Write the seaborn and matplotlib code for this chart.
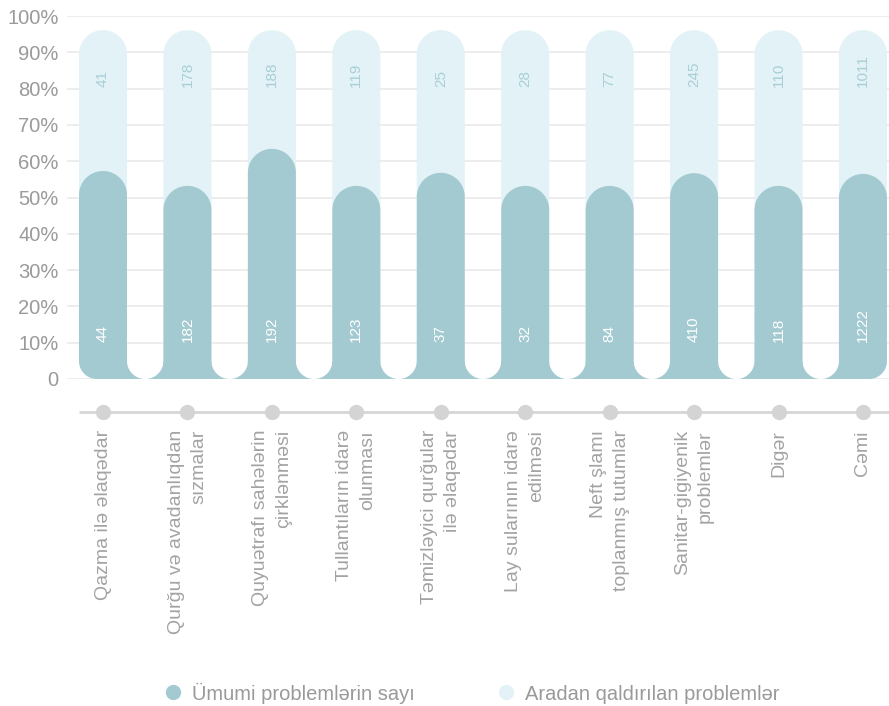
import numpy as np
import pandas as pd
import matplotlib
matplotlib.use("Agg")
import matplotlib.pyplot as plt
import seaborn as sns
from matplotlib.patches import Polygon, Rectangle
from matplotlib.lines import Line2D

# ---------------- data ----------------
categories = [
    "Qazma ilə əlaqədar",
    "Qurğu və avadanlıqdan\nsızmalar",
    "Quyuətrafı sahələrin\nçirklənməsi",
    "Tullantıların idarə\nolunması",
    "Təmizləyici qurğular\nilə əlaqədar",
    "Lay sularının idarə\nedilməsi",
    "Neft şlamı\ntoplanmış tutumlar",
    "Sanitar-gigiyenik\nproblemlər",
    "Digər",
    "Cəmi",
]
total_problems = [44, 182, 192, 123, 37, 32, 84, 410, 118, 1222]
resolved_problems = [41, 178, 188, 119, 25, 28, 77, 245, 110, 1011]
# visual bar heights (% of axis)
total_bar_pct = [57.3, 53.2, 63.4, 53.2, 56.8, 53.2, 53.2, 56.7, 53.2, 56.5]
resolved_bar_pct = [96.1, 96.1, 96.1, 96.1, 96.1, 96.1, 96.1, 96.1, 96.1, 96.1]
yticks = [0, 10, 20, 30, 40, 50, 60, 70, 80, 90, 100]
ytick_labels = ["0", "10%", "20%", "30%", "40%", "50%", "60%", "70%", "80%", "90%", "100%"]
series_labels = ["Ümumi problemlərin sayı", "Aradan qaldırılan problemlər"]

# ---------------- style ----------------
DARK = "#a4cad1"
LIGHT = "#e2f2f6"
LIGHT_TXT = "#a9cfd6"
GRAY_TXT = "#9a9a9a"
GRID = "#ececec"
AXIS_GRAY = "#d6d6d6"

sns.set_theme(style="white")
plt.rcParams["font.family"] = ["Liberation Sans", "DejaVu Sans"]

W, H = 889, 706
fig = plt.figure(figsize=(W / 100, H / 100), dpi=100)
ax_left, ax_right, ax_top, ax_bottom = 67, 889, 16, 379
ax = fig.add_axes([ax_left / W, (H - ax_bottom) / H,
                   (ax_right - ax_left) / W, (ax_bottom - ax_top) / H])

px_x = 84.44                       # pixels per category unit
px_y = (ax_bottom - ax_top) / 100  # pixels per % unit
bar_w = 48 / px_x
xmin = -(103 - ax_left) / px_x
xmax = xmin + (ax_right - ax_left) / px_x

df = pd.DataFrame({
    "category": categories,
    "total_pct": total_bar_pct,
    "resolved_pct": resolved_bar_pct,
})

sns.barplot(data=df, x="category", y="resolved_pct", color=LIGHT,
            saturation=1, width=bar_w, ax=ax)
sns.barplot(data=df, x="category", y="total_pct", color=DARK,
            saturation=1, width=bar_w, ax=ax)

ry_top = 24 / px_y
rb_x = 18 / px_x
rb_y = 18 / px_y


def bar_polygon(x0, x1, top, color, z):
    pts = []
    t = np.linspace(np.pi, 1.5 * np.pi, 20)
    pts += list(zip(x0 + rb_x + rb_x * np.cos(t), rb_y + rb_y * np.sin(t)))
    t = np.linspace(1.5 * np.pi, 2 * np.pi, 20)
    pts += list(zip(x1 - rb_x + rb_x * np.cos(t), rb_y + rb_y * np.sin(t)))
    xc = (x0 + x1) / 2
    rx = (x1 - x0) / 2
    t = np.linspace(0, np.pi, 80)
    pts += list(zip(xc + rx * np.cos(t), top - ry_top + ry_top * np.sin(t)))
    return Polygon(pts, closed=True, facecolor=color, edgecolor="none", zorder=z)


bars = [(p.get_x(), p.get_width(), p.get_height(), p.get_facecolor()) for p in ax.patches]
for p in list(ax.patches):
    p.remove()

dark_r = matplotlib.colors.to_rgba(DARK)[0]
for x, w, h, fc in bars:
    is_dark = abs(fc[0] - dark_r) < 0.01
    ax.add_patch(bar_polygon(x, x + w, h, DARK if is_dark else LIGHT, 3 if is_dark else 2))

n = len(categories)
# base strip joining the dark bars
ax.add_patch(Rectangle((0, 0), n - 1, rb_y, facecolor=DARK, edgecolor="none", zorder=2.6))
# white U-shaped gaps
gap_rx = (px_x - 48) / 2 / px_x
for i in range(n - 1):
    t = np.linspace(np.pi, 2 * np.pi, 40)
    xs = i + 0.5 + gap_rx * np.cos(t)
    ys = rb_y + rb_y * np.sin(t)
    pts = list(zip(xs, ys)) + [(i + 0.5 + gap_rx, rb_y + 0.3), (i + 0.5 - gap_rx, rb_y + 0.3)]
    ax.add_patch(Polygon(pts, closed=True, facecolor="white", edgecolor="none", zorder=2.7))

# value labels
for i, (tv, rv) in enumerate(zip(total_problems, resolved_problems)):
    ax.text(i, 10.2, str(tv), rotation=90, ha="center", va="bottom",
            color="white", fontsize=11, zorder=5)
    ax.text(i, 80.4, str(rv), rotation=90, ha="center", va="bottom",
            color=LIGHT_TXT, fontsize=11, zorder=5)

ax.set_xlim(xmin, xmax)
ax.set_ylim(0, 100)
ax.set_yticks(yticks)
ax.set_yticklabels(ytick_labels)
ax.set_xticks([])
ax.set_xlabel("")
ax.set_ylabel("")
ax.yaxis.grid(True, color=GRID, lw=1.3)
ax.set_axisbelow(True)
for s in ax.spines.values():
    s.set_visible(False)
ax.tick_params(axis="y", length=0, labelsize=14.5, labelcolor=GRAY_TXT, pad=6)

# lower axis line with dots
y_axis_line = -(412 - ax_bottom) / px_y
ax.plot([-0.5 * bar_w, xmax], [y_axis_line, y_axis_line], color=AXIS_GRAY,
        lw=2, clip_on=False, zorder=1, solid_capstyle="butt")
ax.plot(range(n), [y_axis_line] * n, "o", ms=11, color="#d4d4d4",
        mec="none", clip_on=False, zorder=2)

# category labels
y_lab = -(430 - ax_bottom) / px_y
for i, c in enumerate(categories):
    ax.text(i, y_lab, c, rotation=90, ha="center", va="top",
            multialignment="right", color="#a3a3a3", fontsize=14,
            clip_on=False, linespacing=1.45)

# legend
handles = [Line2D([], [], marker="o", ls="", ms=11, color=DARK, mec="none"),
           Line2D([], [], marker="o", ls="", ms=11, color=LIGHT, mec="none")]
fig.legend(handles, series_labels, loc="center", bbox_to_anchor=(0.53, (H - 693) / H),
           ncol=2, frameon=False, fontsize=14.5, labelcolor=GRAY_TXT,
           handlelength=1.0, handletextpad=0.45, columnspacing=4.0)

fig.savefig("out.png", dpi=100)
